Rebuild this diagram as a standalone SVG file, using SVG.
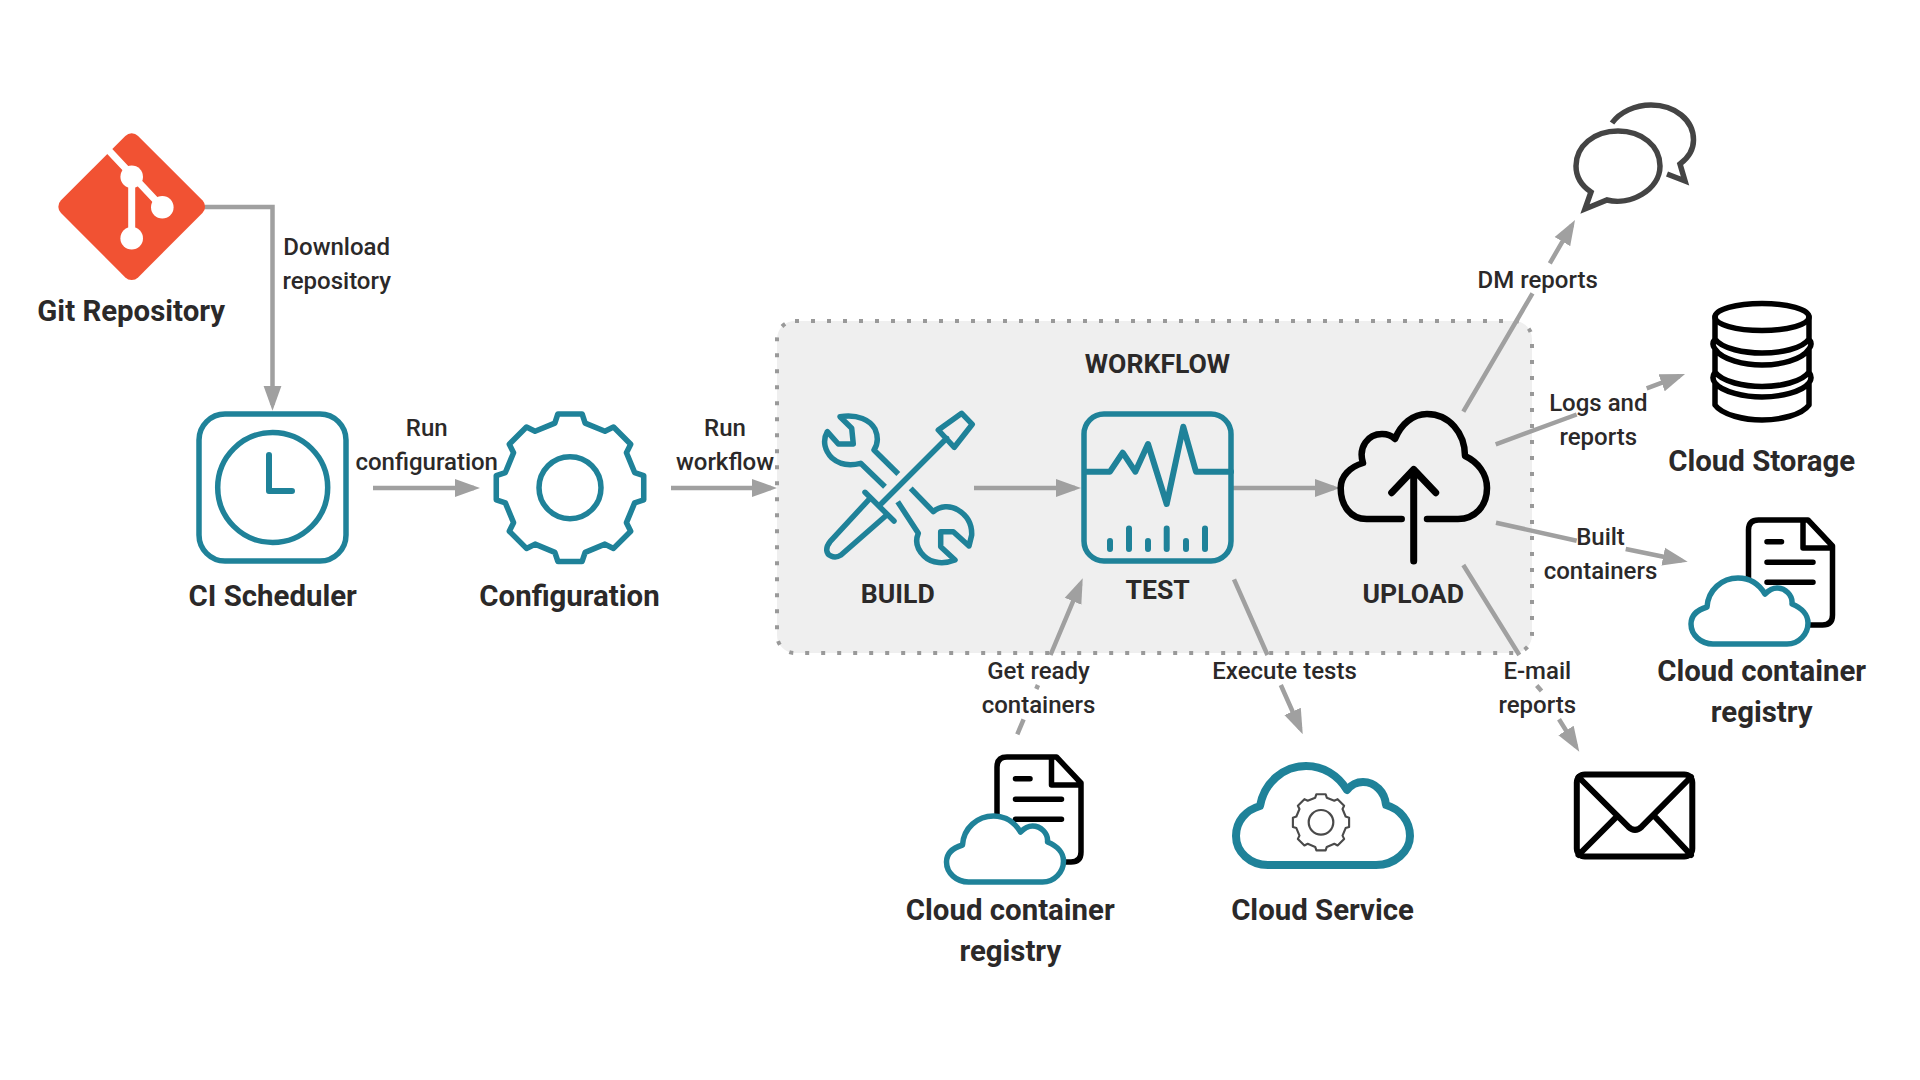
<svg xmlns="http://www.w3.org/2000/svg" width="1920" height="1080" viewBox="0 0 1920 1080">
<style>
text{font-family:Roboto,"Liberation Sans",sans-serif;fill:#2b2929;text-anchor:middle}
.n{font-size:29.4px;font-weight:700}
.u{font-size:26.6px;font-weight:700}
.l{font-size:24px;font-weight:500}
.t{fill:none;stroke:#1f8299;stroke-width:5.5;stroke-linecap:round;stroke-linejoin:round}
.k{fill:none;stroke:#000;stroke-width:5.5;stroke-linecap:round;stroke-linejoin:round}
.c{fill:none;stroke:#a0a0a0;stroke-width:4.5;marker-end:url(#a)}
</style>
<defs>
<marker id="a" markerUnits="userSpaceOnUse" markerWidth="25" markerHeight="20" viewBox="0 0 25 20" refX="19" refY="10" orient="auto"><path d="M0 1L25 10L0 19Z" fill="#a0a0a0"/></marker>
<path id="gear" d="M-15-64L-12-73H12L15-64L34.6-55.9L43.1-60.1L60.1-43.1L55.9-34.6L64-15L73-12V12L64 15L55.9 34.6L60.1 43.1L43.1 60.1L34.6 55.9L15 64L12 73H-12L-15 64L-34.6 55.9L-43.1 60.1L-60.1 43.1L-55.9 34.6L-64 15L-73 12V-12L-64-15L-55.9-34.6L-60.1-43.1L-43.1-60.1L-34.6-55.9Z"/>
<path id="cloud" d="M1713 644H1787C1799 644 1808 634 1808 623C1808 615 1802 608 1792 604C1793 595 1785 588 1777 588C1772 588 1768 591 1765 594C1759 584 1750 578 1738 578C1722 578 1708 590 1707 607C1697 610 1691 616 1691 624C1691 635 1701 644 1713 644Z"/>
<g id="doc">
<path class="k" d="M1748.5 582V530Q1748.5 520 1758.5 520H1808L1832.5 546V615Q1832.5 625 1822.5 625H1808M1803 520V548H1832M1767 541.7H1781.5M1767 562.3H1813M1767 582.3H1813"/>
</g>
</defs>
<rect width="1920" height="1080" fill="#fff"/>
<g id="workflow">
<rect x="777" y="321" width="755" height="332" rx="18" fill="#efefef" stroke="#999" stroke-width="4" stroke-dasharray="4 12"/>
<text class="u" x="1157.5" y="372.5">WORKFLOW</text>
</g>
<g id="connectors">
<path class="c" d="M204 207H272.5V404.7"/>
<path class="c" d="M373 488H474"/>
<path class="c" d="M671 488H771"/>
<path class="c" d="M974 488H1075"/>
<path class="c" d="M1233 488H1334"/>
<path class="c" d="M1017.3 734.3L1023.6 719.3M1036.3 689L1038 685M1050.5 655L1080.4 583.8"/>
<path class="c" d="M1234 579.3L1267.5 655M1280.8 685L1300.3 728.8"/>
<path class="c" d="M1463.3 411.7L1532.5 293.3M1549.8 263.3L1572 225.2"/>
<path class="c" d="M1495.7 444.3L1576.7 414.5M1646.7 388.3L1679.4 376.1"/>
<path class="c" d="M1496 522.7L1576.7 540.7M1625.7 549L1681.8 560.5"/>
<path class="c" d="M1463.3 565L1519.3 655M1536.7 685.5L1541.5 691M1559 719.3L1576.1 746.6"/>
</g>
<g id="edge-labels">
<text class="l"><tspan x="336.7" y="255">Download</tspan><tspan x="336.7" y="289">repository</tspan></text>
<text class="l"><tspan x="426.7" y="436">Run</tspan><tspan x="426.7" y="469.5">configuration</tspan></text>
<text class="l"><tspan x="725" y="436">Run</tspan><tspan x="725" y="469.5">workflow</tspan></text>
<text class="l"><tspan x="1038.5" y="678.5">Get ready</tspan><tspan x="1038.5" y="712.5">containers</tspan></text>
<text class="l" x="1284.5" y="678.5">Execute tests</text>
<text class="l" x="1537.7" y="288">DM reports</text>
<text class="l"><tspan x="1598.3" y="411">Logs and</tspan><tspan x="1598.3" y="444.5">reports</tspan></text>
<text class="l"><tspan x="1600.5" y="545">Built</tspan><tspan x="1600.5" y="578.5">containers</tspan></text>
<text class="l"><tspan x="1537.3" y="679">E-mail</tspan><tspan x="1537.3" y="712.5">reports</tspan></text>
</g>
<g id="git">
<rect x="-54.5" y="-54.5" width="109" height="109" rx="9" fill="#f15233" transform="translate(131.7 206.7) rotate(45)"/>
<path d="M106 147.5L162.3 207.3M131.7 176.7V238.3" fill="none" stroke="#fff" stroke-width="7"/>
<circle cx="131.7" cy="176.7" r="11.3" fill="#fff"/><circle cx="162.3" cy="207.3" r="11.3" fill="#fff"/><circle cx="131.7" cy="238.3" r="11.3" fill="#fff"/>
<text class="n" x="131.2" y="320.5">Git Repository</text>
</g>
<g id="scheduler">
<rect class="t" x="199" y="414" width="147" height="147" rx="26"/>
<circle class="t" cx="272.7" cy="487.5" r="55"/>
<path class="t" d="M269 455V491H292" style="stroke-width:6"/>
<text class="n" x="272.7" y="605.5">CI Scheduler</text>
</g>
<g id="configuration">
<use href="#gear" class="t" transform="translate(570 487.7) scale(1.01)"/>
<circle class="t" cx="570" cy="487.7" r="31"/>
<text class="n" x="569.5" y="605.5">Configuration</text>
</g>
<g id="build">
<path class="t" d="M898.3 474L874 450C878 444 878 436 875 429C870 420 858 414 840 416.7L851.7 428.3L853.3 444H838.3L827.3 431.7C822 441 825 451 832 458C840 465 850 466 860.7 463.3L885 486.7M910.7 488.3L933.3 511.7C940 506 950 505 958 510C968 516 972 525 971.7 535L969 546L953.3 531.7H940.7V546.7L955 560C945 564 932 564 924 556C917 549 915 541 918.3 533.3L897.7 501.7" style="stroke-linecap:butt"/>
<path class="t" d="M961.7 413.3L972.3 424.3L954.3 447.3L938.3 430ZM946.7 438.3L881.7 503.3M865 492.3L894 521M870 498.3L830 541.7C825 548 826 554 831 556C835 558 838 557 841 555L886.7 515"/>
<text class="u" x="897.7" y="602.5">BUILD</text>
</g>
<g id="test">
<rect class="t" x="1084" y="414" width="147" height="147" rx="20"/>
<path class="t" d="M1085 471.7H1110L1122.7 452.7L1135.3 471.7L1148 444L1166.7 504L1183.3 426.7L1196 471.7H1231" style="stroke-width:6"/>
<path class="t" d="M1110 541V549M1129 528.5V549M1148 541V549M1166.7 528.5V549M1186 541V549M1205 528.5V549" style="stroke-width:6"/>
<text class="u" x="1157.7" y="598.5">TEST</text>
</g>
<g id="upload">
<path class="k" style="stroke-width:6.5" d="M1401.7 519H1366.7C1350 519 1340.7 505 1340.7 488C1340.7 476 1350 467 1363 463C1358 447 1368 434 1382 434C1387 434 1392 436 1395 439C1401 424 1413 414 1427 414C1449 414 1465 433 1465 456C1478 462 1487 474 1487 488C1487 506 1475 519 1458 519H1427"/>
<path class="k" style="stroke-width:7" d="M1413.7 561V469.5M1391.7 492.7L1413.7 469.5L1435.7 492.7"/>
<text class="u" x="1413.3" y="602.5">UPLOAD</text>
</g>
<g id="chat">
<path d="M1607 200C1630 206 1660 190 1660 166C1660 146 1642 131 1618 131C1594 131 1576 146 1576 166C1576 177 1582 186 1591 192L1585 209ZM1612 123C1620 112 1635 105 1651 105C1675 105 1693.5 120 1693.5 140C1693.5 150 1688 158 1680 164L1685 181L1667 174" fill="none" stroke="#444" stroke-width="5.5"/>
</g>
<g id="storage">
<ellipse class="k" cx="1762" cy="317" rx="47" ry="13.5"/>
<path class="k" d="M1715 317V339C1722 349 1745 353 1762 353C1780 353 1802 349 1809 339V317M1715 339Q1711 344 1715 349V372C1722 382 1745 386.5 1762 386.5C1780 386.5 1802 382 1809 372V349Q1813 344 1809 339M1715 349C1722 360 1745 365 1762 365C1780 365 1802 360 1809 349M1715 372Q1711 378 1715 383V405C1722 415 1745 420 1762 420C1780 420 1802 415 1809 405V383Q1813 378 1809 372M1715 383C1722 392 1745 397 1762 397C1780 397 1802 392 1809 383"/>
<text class="n" x="1761.7" y="471">Cloud Storage</text>
</g>
<g id="registry-right">
<use href="#doc"/>
<use href="#cloud" class="t" style="fill:#fff"/>
<text class="n"><tspan x="1761.7" y="681">Cloud container</tspan><tspan x="1761.7" y="722">registry</tspan></text>
</g>
<g id="registry-bottom">
<use href="#doc" transform="translate(-751.5 237)"/>
<use href="#cloud" class="t" style="fill:#fff" transform="translate(-744.5 238)"/>
<text class="n"><tspan x="1010.3" y="920">Cloud container</tspan><tspan x="1010.3" y="960.5">registry</tspan></text>
</g>
<g id="email">
<rect class="k" style="stroke-width:6" x="1576.8" y="774.5" width="115.5" height="82" rx="8"/>
<path class="k" style="stroke-width:6" d="M1578.5 777L1628.3 826.7Q1635 833 1641.7 826.7L1691 777M1616.7 816.7L1578.5 855M1655 816.7L1691 855"/>
</g>
<g id="cloud-service">
<path d="M1268 865H1376C1395 865 1410 851 1410 836C1410 821 1400 809 1386 805C1385 792 1375 782 1363 782C1356 782 1351 785 1347 790C1338 775 1323 766 1306 766C1283 766 1264 783 1260 806C1246 810 1236 821 1236 836C1236 852 1250 865 1268 865Z" fill="none" stroke="#1f8299" stroke-width="8" stroke-linejoin="round"/>
<use href="#gear" transform="translate(1321 822.3) scale(.385)" fill="none" stroke="#4a4a4a" stroke-width="5.5" stroke-linejoin="round"/>
<circle cx="1321" cy="822.3" r="12.3" fill="none" stroke="#4a4a4a" stroke-width="2.2"/>
<text class="n" x="1322.5" y="920">Cloud Service</text>
</g>
</svg>
